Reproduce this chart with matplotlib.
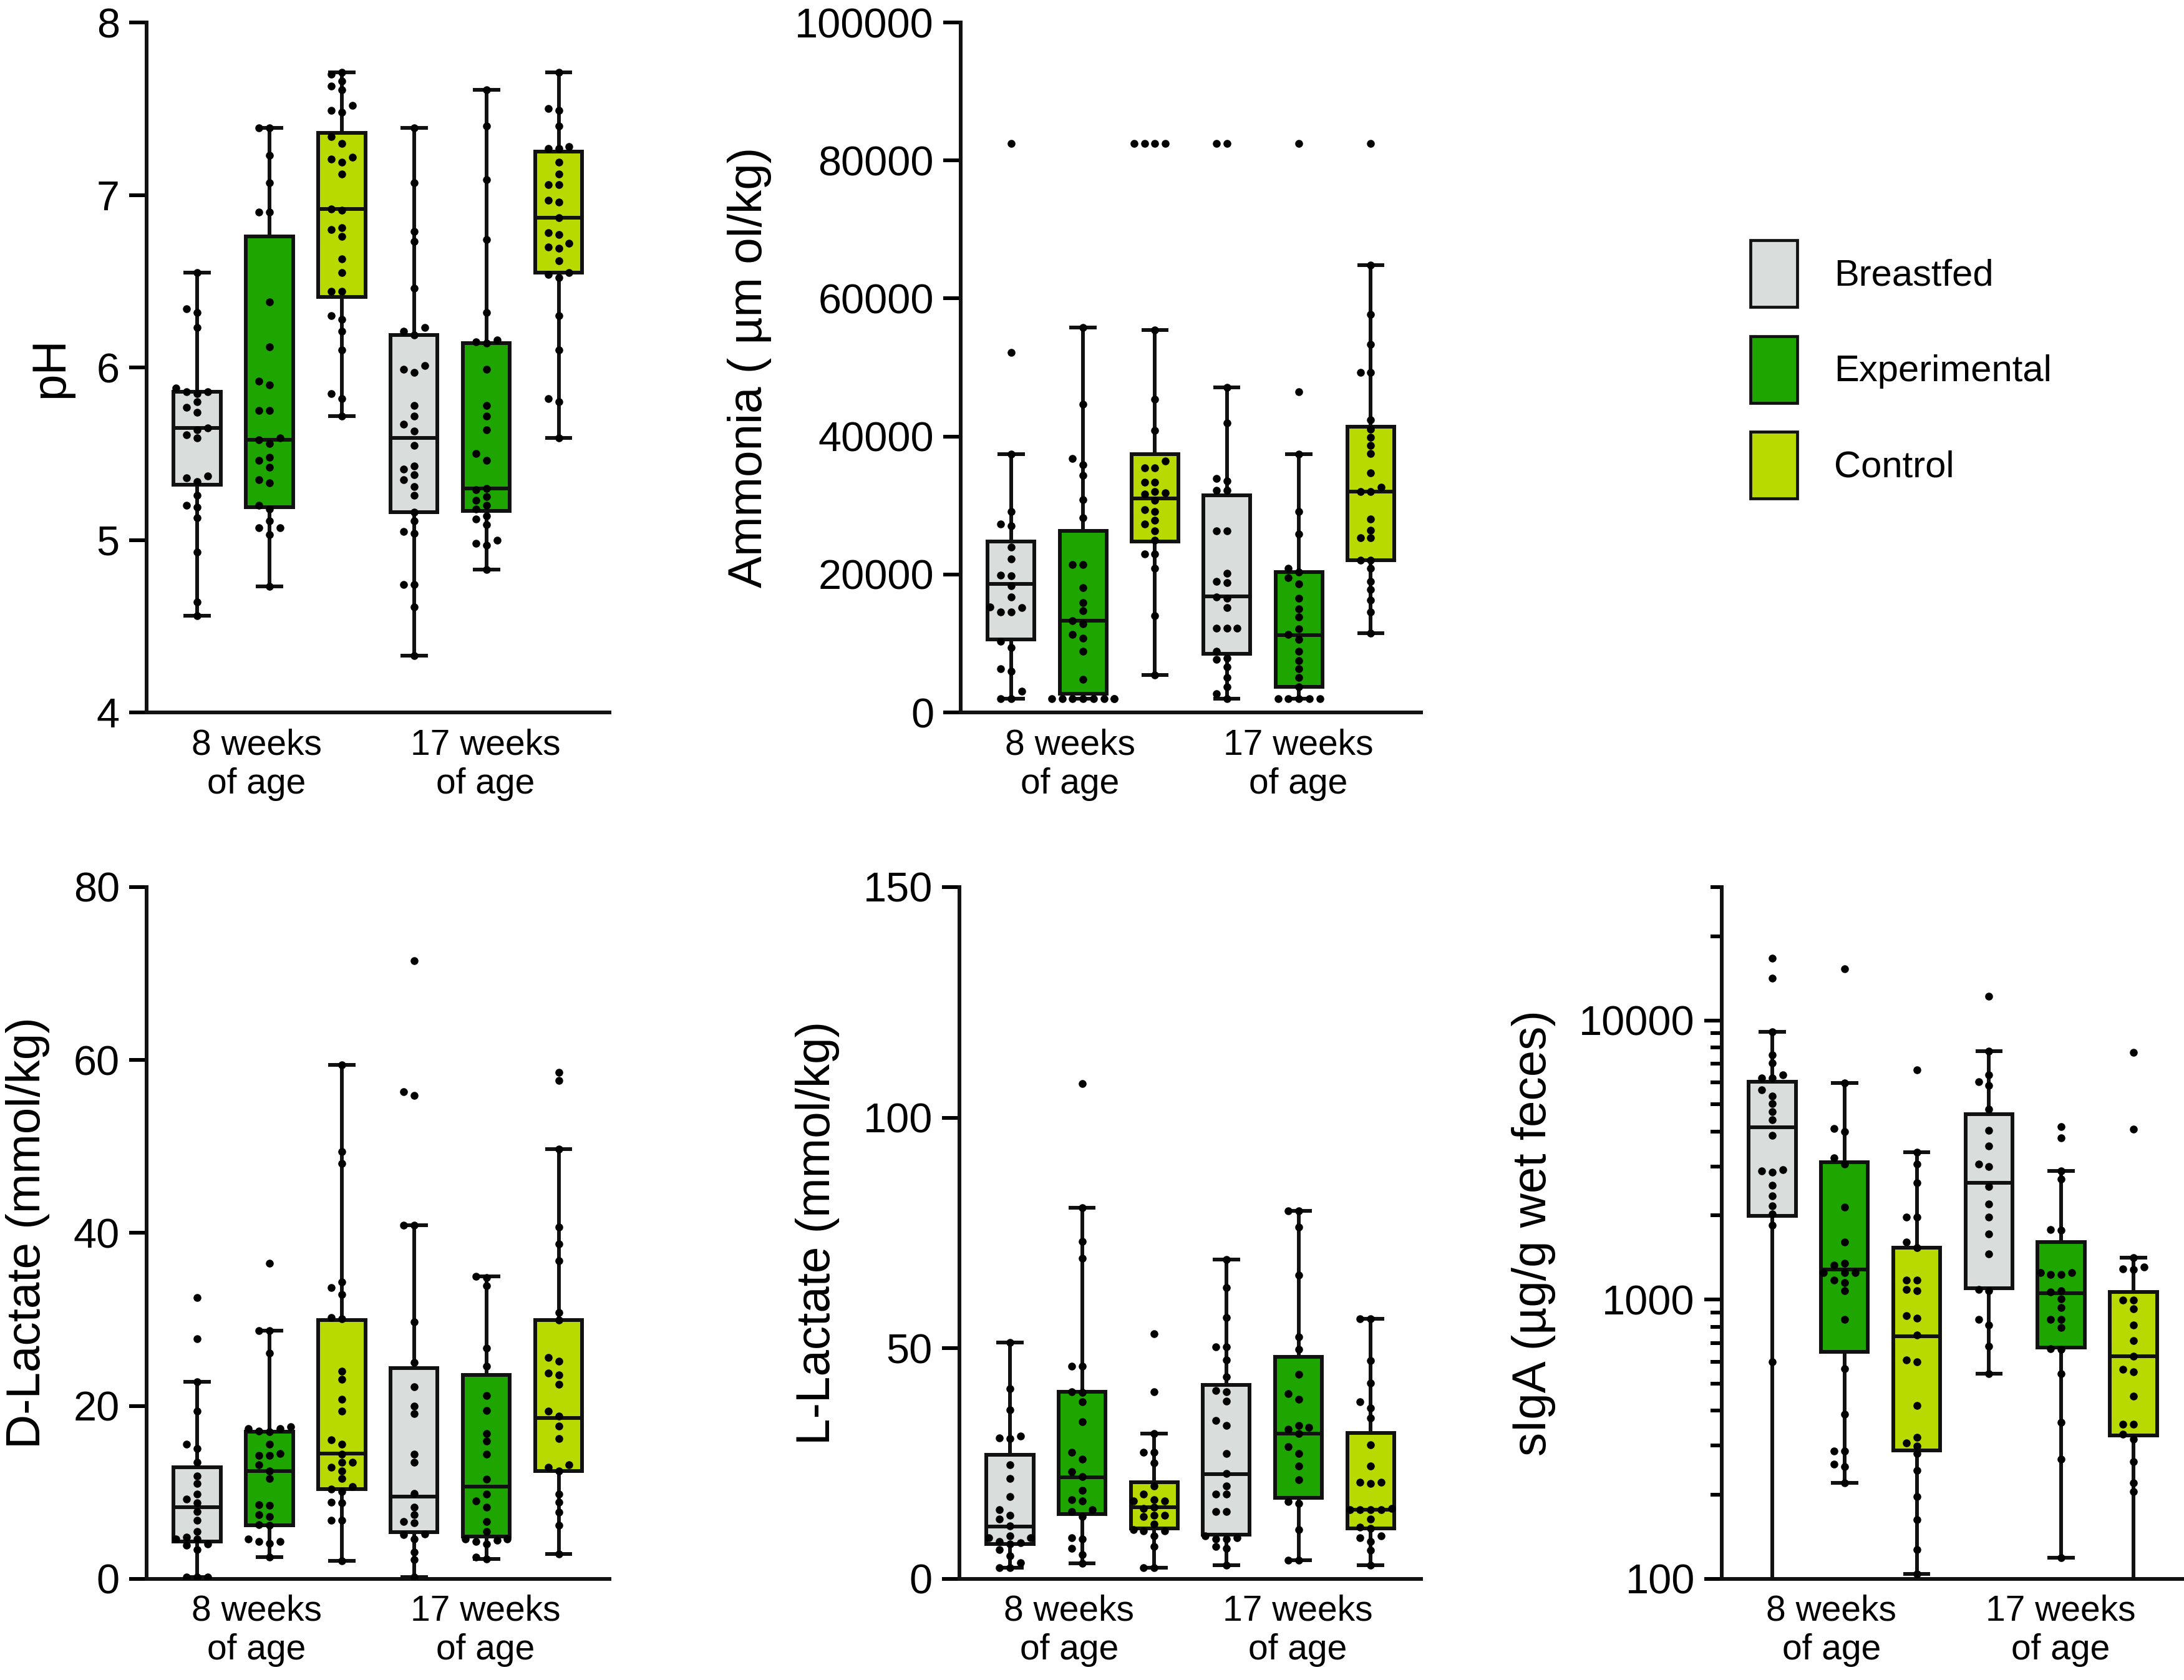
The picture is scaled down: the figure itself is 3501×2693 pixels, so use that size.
import numpy as np
import matplotlib.pyplot as plt
import matplotlib.ticker as mticker
from matplotlib.patches import Patch

plt.rcParams['font.family'] = ['Liberation Sans', 'DejaVu Sans']

groups = ['Breastfed', 'Experimental', 'Control']
colors = ['#d9dedd', '#1fa500', '#b8da00']
ages = ['8 weeks\nof age', '17 weeks\nof age']

# pH
ph_bf8 = [6.55, 6.34, 6.32, 6.23, 5.88, 5.86, 5.86, 5.85, 5.80, 5.77, 5.74, 5.65, 5.64, 5.61, 5.59, 5.37, 5.36, 5.34, 5.26, 5.20, 5.19, 5.13, 4.93, 4.64, 4.56]
ph_exp8 = [7.39, 7.39, 7.23, 7.07, 6.90, 6.90, 6.38, 6.12, 5.92, 5.90, 5.75, 5.75, 5.59, 5.58, 5.56, 5.48, 5.46, 5.42, 5.35, 5.33, 5.20, 5.18, 5.11, 5.07, 5.07, 5.03, 4.73]
ph_ctl8 = [7.71, 7.70, 7.66, 7.63, 7.61, 7.52, 7.49, 7.48, 7.34, 7.30, 7.22, 7.21, 7.19, 7.12, 6.92, 6.91, 6.81, 6.80, 6.76, 6.63, 6.55, 6.44, 6.44, 6.30, 6.28, 6.21, 6.10, 5.85, 5.82, 5.72]
ph_bf17 = [7.39, 7.07, 6.79, 6.73, 6.46, 6.23, 6.21, 6.19, 6.01, 5.99, 5.97, 5.78, 5.72, 5.67, 5.63, 5.55, 5.43, 5.41, 5.38, 5.35, 5.31, 5.26, 5.16, 5.11, 5.05, 5.04, 4.74, 4.74, 4.61, 4.33]
ph_exp17 = [7.61, 7.40, 7.09, 6.74, 6.32, 6.16, 6.15, 6.14, 5.99, 5.78, 5.72, 5.64, 5.50, 5.46, 5.30, 5.29, 5.25, 5.23, 5.20, 5.18, 5.14, 5.12, 5.09, 5.00, 4.98, 4.97, 4.83]
ph_ctl17 = [7.71, 7.50, 7.49, 7.40, 7.28, 7.27, 7.27, 7.19, 7.12, 7.06, 7.06, 6.97, 6.96, 6.87, 6.78, 6.77, 6.72, 6.70, 6.69, 6.62, 6.55, 6.54, 6.52, 6.30, 6.10, 5.82, 5.80, 5.59]
ph_lo = [4.56, 4.73, 5.72, 4.33, 4.83, 5.59]
ph_q1 = [5.32, 5.19, 6.41, 5.16, 5.17, 6.55]
ph_med = [5.65, 5.58, 6.92, 5.59, 5.30, 6.87]
ph_q3 = [5.86, 6.76, 7.36, 6.19, 6.14, 7.25]
ph_hi = [6.55, 7.39, 7.71, 7.39, 7.61, 7.71]

# ammonia
am_bf8 = [82450, 52180, 37400, 29120, 27280, 27050, 23990, 22220, 19920, 19770, 18390, 16700, 15330, 15170, 14560, 14560, 10350, 9430, 6360, 5980, 3070, 1990, 1990]
am_exp8 = [55790, 44680, 36780, 35860, 34330, 30880, 28200, 21460, 21460, 18090, 15940, 14790, 13260, 12880, 11340, 10810, 8890, 4830, 1990, 1990, 1990, 1990, 1990, 1990, 1990, 1990]
am_ctl8 = [82450, 82450, 82450, 82450, 55400, 45440, 40850, 36480, 35480, 35480, 33410, 33410, 32030, 31800, 31650, 30730, 29350, 29120, 27820, 27280, 26280, 24980, 22990, 22990, 20920, 14020, 5440]
am_bf17 = [82450, 82450, 47130, 41990, 33950, 33570, 32190, 32190, 26280, 26280, 20160, 19000, 18780, 16710, 16550, 15170, 12260, 12260, 12260, 8890, 7890, 7660, 6590, 5060, 3680, 2760, 1990]
am_exp17 = [82450, 46440, 37400, 29120, 25900, 20920, 20310, 19540, 18620, 16550, 15020, 13800, 12110, 11340, 10580, 8890, 7510, 6360, 5060, 3680, 1990, 1990, 1990, 1990, 1990]
am_ctl17 = [82450, 64830, 57700, 53330, 49270, 49270, 42380, 41070, 39850, 38700, 37550, 34710, 32650, 32030, 32030, 28050, 26440, 25290, 25290, 22070, 22070, 20920, 19000, 17860, 16320, 14560, 11500]
am_lo = [1990, 1990, 5440, 1990, 1990, 11500]
am_q1 = [10580, 2760, 24750, 8510, 3680, 22070]
am_med = [18620, 13260, 31040, 16860, 11190, 32030]
am_q3 = [24750, 26280, 37400, 31500, 20310, 41380]
am_hi = [37400, 55790, 55400, 47130, 37400, 64830]

# D-lactate
dl_bf8 = [32.5, 27.8, 22.8, 19.4, 15.6, 15.1, 13.5, 11.9, 11.0, 9.8, 9.2, 8.8, 7.8, 6.8, 5.5, 4.8, 4.6, 4.6, 4.0, 3.9, 3.4, 0.2, 0.2, 0.2]
dl_exp8 = [36.5, 28.7, 28.7, 26.1, 17.6, 17.4, 17.4, 17.1, 17.0, 15.6, 14.5, 14.3, 14.3, 13.2, 12.5, 11.6, 8.6, 8.5, 7.4, 7.2, 6.3, 6.2, 4.6, 4.3, 4.3, 4.1, 2.5]
dl_ctl8 = [59.4, 49.4, 48.0, 34.3, 33.7, 32.9, 30.2, 30.1, 24.0, 23.1, 20.8, 19.4, 16.1, 15.6, 14.4, 13.5, 13.5, 12.9, 12.5, 11.6, 10.7, 10.4, 10.1, 8.9, 8.8, 6.8, 6.8, 2.1]
dl_bf17 = [71.5, 56.3, 55.9, 40.9, 40.9, 29.7, 25.0, 22.2, 20.0, 19.1, 14.4, 13.5, 9.9, 8.3, 7.4, 6.6, 6.5, 5.2, 5.1, 4.6, 3.1, 2.2, 0.2]
dl_exp17 = [35.0, 34.8, 33.9, 26.7, 24.6, 21.2, 19.5, 16.8, 15.9, 14.4, 11.5, 9.8, 9.0, 8.3, 6.6, 5.5, 4.6, 4.6, 4.5, 4.3, 4.0, 2.5, 2.3]
dl_ctl17 = [58.6, 57.6, 49.7, 40.7, 38.7, 36.8, 30.8, 29.9, 25.6, 25.2, 23.8, 23.6, 22.5, 19.4, 18.8, 17.7, 16.2, 13.2, 12.9, 12.5, 9.8, 8.9, 7.7, 6.2, 2.9]
dl_lo = [0.2, 2.5, 2.1, 0.2, 2.3, 2.9]
dl_q1 = [4.3, 6.2, 10.4, 5.4, 4.9, 12.5]
dl_med = [8.3, 12.5, 14.5, 9.5, 10.7, 18.6]
dl_q3 = [12.9, 17.0, 29.9, 24.4, 23.6, 29.9]
dl_hi = [22.8, 28.7, 59.4, 40.9, 35.0, 49.7]

# L-lactate
ll_bf8 = [51.3, 41.2, 36.6, 30.9, 30.6, 30.4, 24.7, 21.8, 17.8, 15.0, 13.8, 13.0, 11.5, 9.3, 8.9, 8.9, 8.1, 7.8, 7.5, 6.4, 5.0, 3.5, 2.4, 2.4]
ll_exp8 = [107.4, 80.4, 73.2, 69.5, 46.1, 46.1, 40.6, 40.4, 38.4, 34.1, 27.5, 26.0, 23.3, 22.2, 19.2, 17.2, 16.9, 15.0, 14.6, 13.5, 8.9, 8.7, 6.6, 5.3, 3.3]
ll_ctl8 = [53.2, 40.6, 31.5, 27.5, 27.5, 25.2, 20.1, 18.4, 17.2, 16.9, 16.9, 15.5, 15.3, 13.8, 13.5, 13.8, 11.9, 10.7, 10.4, 10.4, 9.3, 7.0, 2.4, 2.4]
ll_bf17 = [69.2, 63.2, 56.6, 50.3, 50.3, 47.5, 43.8, 40.9, 40.6, 38.6, 34.4, 33.2, 27.2, 22.9, 20.1, 18.4, 18.4, 14.6, 14.6, 9.3, 8.9, 8.7, 8.7, 7.0, 6.6, 3.0]
ll_exp17 = [79.8, 79.8, 76.3, 65.8, 52.4, 49.8, 44.4, 40.1, 38.9, 33.2, 32.9, 32.4, 31.5, 28.7, 27.2, 24.4, 21.5, 16.7, 16.4, 10.7, 4.1, 4.1]
ll_ctl17 = [56.4, 56.4, 47.3, 42.4, 38.4, 37.0, 34.9, 29.0, 24.4, 21.0, 21.0, 20.7, 15.3, 15.0, 15.0, 15.0, 15.0, 13.0, 11.2, 11.0, 9.3, 8.9, 8.1, 6.2, 3.0]
ll_lo = [2.4, 3.3, 2.4, 3.0, 4.1, 3.0]
ll_q1 = [7.5, 14.0, 11.0, 9.6, 17.6, 11.0]
ll_med = [11.3, 22.0, 15.5, 22.7, 31.5, 15.0]
ll_q3 = [26.9, 40.6, 20.9, 42.0, 48.1, 31.7]
ll_hi = [51.3, 80.4, 31.5, 69.2, 79.8, 56.4]

# sIgA
ig_bf8 = [16670, 14150, 9100, 7520, 7020, 6370, 6230, 6230, 5640, 5350, 5020, 4700, 4400, 3870, 2920, 2890, 2860, 2570, 2350, 2170, 2020, 1850, 600]
ig_exp8 = [15300, 5970, 4090, 3990, 3210, 3050, 2140, 1610, 1350, 1325, 1250, 1250, 1250, 1175, 1150, 1075, 848, 566, 388, 287, 287, 258, 252, 221]
ig_ctl8 = [6650, 3370, 3050, 2620, 1975, 1975, 1605, 1535, 1175, 1175, 1085, 1075, 875, 859, 745, 607, 600, 418, 322, 306, 299, 281, 244, 197, 163, 127, 104]
ig_bf17 = [12220, 7740, 6370, 6040, 5830, 4810, 4040, 3550, 3050, 2990, 2540, 2200, 1975, 1720, 1460, 1085, 1075, 848, 812, 682, 542]
ig_exp17 = [4170, 3790, 2890, 2700, 1785, 1775, 1250, 1250, 1227, 1227, 1075, 1067, 1008, 937, 848, 848, 794, 668, 662, 542, 364, 268, 119]
ig_ctl17 = [7670, 4075, 1410, 1310, 1290, 1280, 998, 998, 925, 812, 713, 626, 562, 550, 452, 357, 357, 330, 317, 263, 221, 205]
ig_lo = [90, 221, 104, 542, 119, 90]
ig_q1 = [1990, 651, 289, 1100, 674, 327]
ig_med = [4130, 1280, 738, 2620, 1055, 626]
ig_q3 = [6040, 3110, 1535, 4600, 1605, 1062]
ig_hi = [9100, 5970, 3370, 7740, 2890, 1410]

LW = 4.3
EC = '#111111'

fig = plt.figure(figsize=(35.01, 26.93), dpi=100)


def swarm(vals, tol, step=0.145, nmax=3):
    # simple beeswarm so dots with close values sit side by side
    vals = np.asarray(vals, float)
    offs = np.zeros(len(vals))
    cands = [0.0]
    for k in range(1, nmax + 1):
        cands += [-k * step, k * step]
    placed = []
    for i in np.argsort(vals):
        for c in cands:
            if all(abs(vals[i] - v) > tol or abs(c - o) > step * 0.9 for v, o in placed):
                break
        offs[i] = c
        placed.append((vals[i], c))
    return offs


def panel(rect, pts, lo, q1, med, q3, hi, ylabel, ylim, yticks=None, log=False):
    ax = fig.add_axes(rect)
    if log:
        ax.set_yscale('log')
    stats = [dict(whislo=lo[i], q1=q1[i], med=med[i], q3=q3[i], whishi=hi[i], fliers=[])
             for i in range(6)]
    bp = ax.bxp(stats, positions=range(6), widths=0.65, patch_artist=True, showfliers=False,
                boxprops=dict(linewidth=LW, edgecolor=EC),
                whiskerprops=dict(linewidth=LW, color=EC),
                capprops=dict(linewidth=LW, color=EC),
                medianprops=dict(linewidth=LW, color=EC))
    for b, c in zip(bp['boxes'], colors * 2):
        b.set_facecolor(c)
    yr = (np.log10(ylim[1]) - np.log10(ylim[0])) if log else (ylim[1] - ylim[0])
    tol = 12 / 1106 * yr
    for i, p in enumerate(pts):
        v = np.log10(p) if log else np.asarray(p, float)
        ax.scatter(i + swarm(v, tol), p, s=82, color='black', zorder=3, linewidths=0)
    ax.set_xlim(-0.7, 5.7)
    ax.set_ylim(*ylim)
    if log:
        ax.yaxis.set_major_locator(mticker.FixedLocator([100, 1000, 10000]))
        ax.yaxis.set_major_formatter(mticker.FuncFormatter(lambda x, _: '%d' % x))
        ax.yaxis.set_minor_locator(mticker.LogLocator(subs=range(2, 10)))
        ax.yaxis.set_minor_formatter(mticker.NullFormatter())
        ax.tick_params(axis='y', which='minor', length=13, width=LW)
    else:
        ax.set_yticks(yticks)
    # the "8 weeks" label sits a bit left of its middle box in the original
    ax.set_xticks([0.82, 3.99], ages)
    ax.tick_params(axis='x', length=0, labelsize=41, pad=18)
    ax.tick_params(axis='y', which='major', length=20, width=LW, labelsize=48, pad=11)
    for s in ['top', 'right']:
        ax.spines[s].set_visible(False)
    for s in ['left', 'bottom']:
        ax.spines[s].set_linewidth(LW)
        ax.spines[s].set_color(EC)
    ax.set_ylabel(ylabel, fontsize=55, labelpad=27)
    return ax


panel([0.0671, 0.5759, 0.2119, 0.4107], [ph_bf8, ph_exp8, ph_ctl8, ph_bf17, ph_exp17, ph_ctl17],
      ph_lo, ph_q1, ph_med, ph_q3, ph_hi, 'pH', (4, 8), [4, 5, 6, 7, 8])
panel([0.4399, 0.5759, 0.2108, 0.4107], [am_bf8, am_exp8, am_ctl8, am_bf17, am_exp17, am_ctl17],
      am_lo, am_q1, am_med, am_q3, am_hi, 'Ammonia ( µm ol/kg)', (0, 100000),
      [0, 20000, 40000, 60000, 80000, 100000])
panel([0.0671, 0.0602, 0.2119, 0.4118], [dl_bf8, dl_exp8, dl_ctl8, dl_bf17, dl_exp17, dl_ctl17],
      dl_lo, dl_q1, dl_med, dl_q3, dl_hi, 'D-Lactate (mmol/kg)', (0, 80), [0, 20, 40, 60, 80])
panel([0.4393, 0.0602, 0.2114, 0.4118], [ll_bf8, ll_exp8, ll_ctl8, ll_bf17, ll_exp17, ll_ctl17],
      ll_lo, ll_q1, ll_med, ll_q3, ll_hi, 'L-Lactate (mmol/kg)', (0, 150), [0, 50, 100, 150])
panel([0.7883, 0.0602, 0.2117, 0.4118], [ig_bf8, ig_exp8, ig_ctl8, ig_bf17, ig_exp17, ig_ctl17],
      ig_lo, ig_q1, ig_med, ig_q3, ig_hi, 'sIgA (µg/g wet feces)', (100, 30000), log=True)

handles = [Patch(facecolor=c, edgecolor=EC, linewidth=3.4, label=g) for g, c in zip(groups, colors)]
fig.legend(handles=handles, loc='upper left', bbox_to_anchor=(0.8015, 0.857), frameon=False,
           fontsize=43, handlelength=1.25, handleheight=2.38, labelspacing=0.78,
           handletextpad=1.0, borderpad=0, borderaxespad=0)

fig.savefig('out.png', dpi=100)
